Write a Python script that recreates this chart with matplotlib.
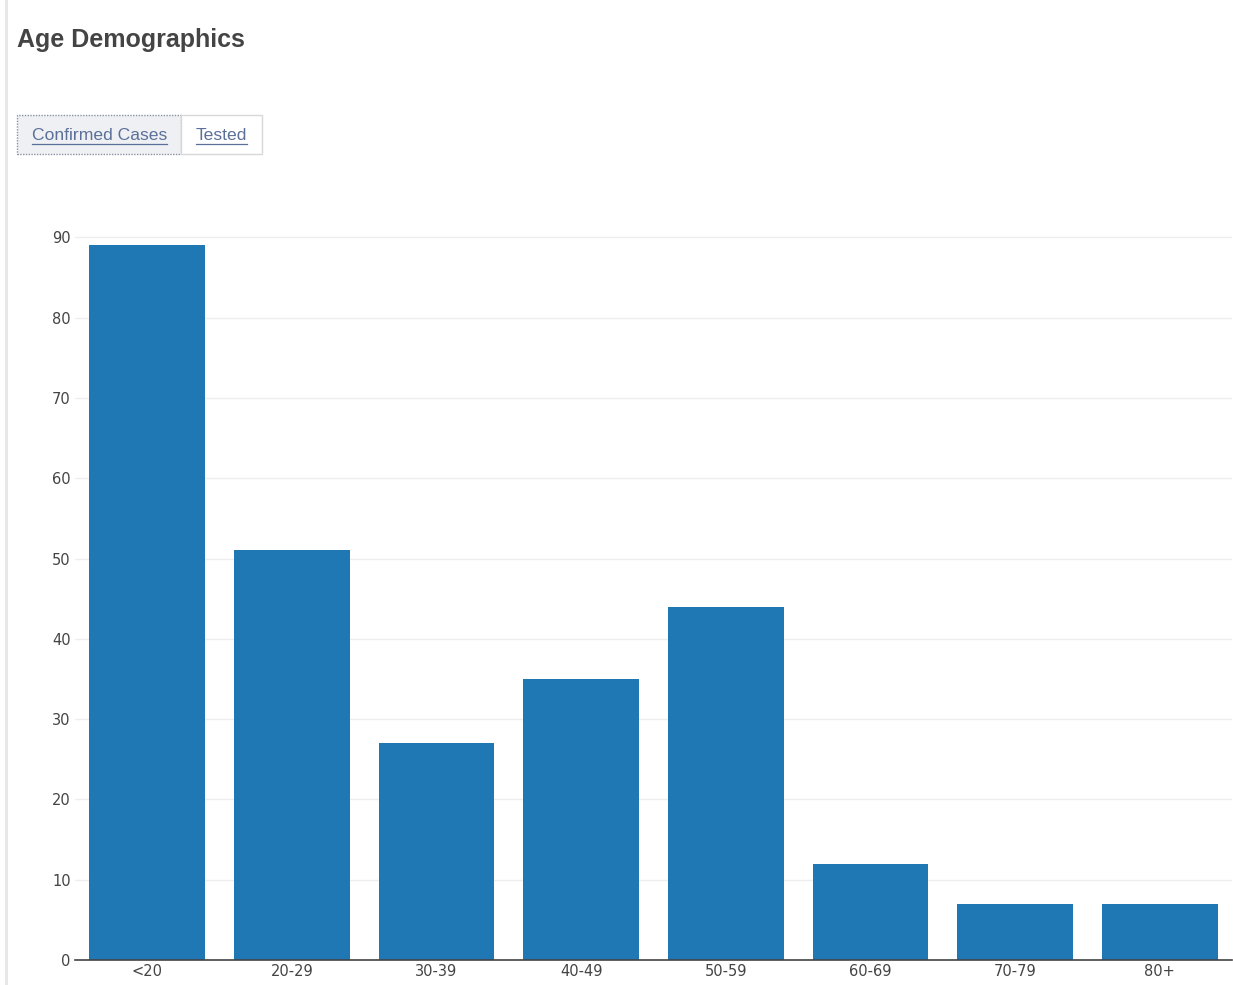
import matplotlib
matplotlib.use("Agg")
import matplotlib.pyplot as plt
from matplotlib.patches import Rectangle

categories = ["<20", "20-29", "30-39", "40-49", "50-59", "60-69", "70-79", "80+"]
confirmed = [89, 51, 27, 35, 44, 12, 7, 7]
y_ticks = [0, 10, 20, 30, 40, 50, 60, 70, 80, 90]

W, H = 1233, 985
fig = plt.figure(figsize=(W / 100, H / 100), dpi=100)
fig.patch.set_facecolor("white")

def fx(px):
    return px / W

def fy(py):
    return 1 - py / H

# left page border
fig.add_artist(Rectangle((fx(5), 0), fx(3), 1, transform=fig.transFigure,
                         facecolor="#e8e8e8", edgecolor="none"))

fig.text(fx(17), fy(40), "Age Demographics", fontsize=18, fontweight="bold",
         color="#444444", va="center", ha="left", family="Liberation Sans")

# buttons
fig.add_artist(Rectangle((fx(17), fy(154)), fx(164), 39 / H, transform=fig.transFigure,
                         facecolor="#eef0f3", edgecolor="#8a93a3", linestyle=(0, (1, 1)),
                         linewidth=1))
fig.add_artist(Rectangle((fx(181), fy(154)), fx(81), 39 / H, transform=fig.transFigure,
                         facecolor="white", edgecolor="#d8d8d8", linewidth=1))
for label, cx in [("Confirmed Cases", 99.5), ("Tested", 221.5)]:
    fig.text(fx(cx), fy(135), label, fontsize=12.6, color="#5b7099", ha="center",
             va="center", family="Liberation Sans")
# underlines
fig.add_artist(plt.Line2D([fx(32), fx(167)], [fy(144), fy(144)], transform=fig.transFigure,
                          color="#5b7099", linewidth=0.9))
fig.add_artist(plt.Line2D([fx(196), fx(247)], [fy(144), fy(144)], transform=fig.transFigure,
                          color="#5b7099", linewidth=0.9))

# axes
ax_left, ax_right = 75, 1232
ax_top, ax_bottom = 210, 960
ax = fig.add_axes([fx(ax_left), fy(ax_bottom), fx(ax_right - ax_left), (ax_bottom - ax_top) / H])
x = list(range(len(categories)))
ax.bar(x, confirmed, width=0.8, color="#1f77b4", zorder=3)
ax.set_xlim(-0.5, len(categories) - 0.5)
ax.set_ylim(0, 93.4)
ax.set_yticks(y_ticks)
ax.set_xticks(x)
ax.set_xticklabels(categories)
ax.grid(axis="y", color="#eeeeee", linewidth=1, zorder=0)
ax.grid(axis="x", visible=False)
for s in ["top", "right", "left"]:
    ax.spines[s].set_visible(False)
ax.spines["bottom"].set_color("#444444")
ax.spines["bottom"].set_linewidth(1.2)
ax.spines["bottom"].set_zorder(4)
ax.tick_params(axis="y", length=0, pad=3, labelsize=10.5, labelcolor="#444444")
ax.tick_params(axis="x", length=0, pad=3, labelsize=10.5, labelcolor="#444444")
ax.set_facecolor("white")

fig.savefig("out.png", dpi=100)
